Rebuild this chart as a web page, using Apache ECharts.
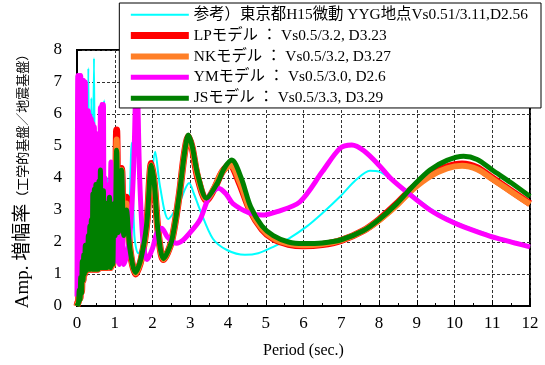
<!DOCTYPE html>
<html>
<head>
<meta charset="utf-8">
<script src="https://cdn.jsdelivr.net/npm/echarts@6/dist/echarts.min.js"></script>
<style>
  html, body { margin: 0; padding: 0; background: #fff; }
  #chart { width: 545px; height: 365px; }
</style>
</head>
<body>
<div id="chart"></div>
<script>
// [period (sec), amplification]
const refData = [[0,1.0],[0.03,2.0],[0.05,1.4],[0.08,3.5],[0.1,1.6],[0.13,4.5],[0.15,1.8],[0.18,5.0],[0.2,2.0],[0.23,5.5],[0.26,2.2],[0.3,7.43],[0.33,2.5],[0.38,6.5],[0.41,2.5],[0.45,7.74],[0.48,2.4],[0.52,5.0],[0.55,2.2],[0.6,4.5],[0.64,2.0],[0.72,6.43],[0.76,2.0],[0.8,4.0],[0.84,1.8],[0.9,3.5],[0.95,1.6],[1.0,3.0],[1.05,1.5],[1.1,2.5],[1.16,1.35],[1.22,1.44],[1.3,1.5],[1.36,1.8],[1.45,5.1],[1.52,2.2],[1.62,1.65],[1.8,2.1],[1.95,3.6],[2.07,4.82],[2.2,3.73],[2.42,2.72],[2.7,3.2],[2.97,3.84],[3.1,3.5],[3.26,3.0],[3.6,2.1],[3.97,1.75],[4.45,1.6],[4.8,1.65],[5.2,1.85],[5.6,2.1],[6.08,2.48],[6.5,2.9],[6.97,3.42],[7.4,3.95],[7.76,4.23],[8.0,4.2],[8.29,4.0],[8.8,3.55],[9.35,3.05],[9.8,2.75],[10.23,2.52],[10.7,2.32],[11.12,2.15],[11.6,2.0],[12,1.88]];

const lpData = [[0,0],[0.02,0.1],[0.04,0.15],[0.06,0.6],[0.08,0.25],[0.1,1.0],[0.12,0.45],[0.14,1.5],[0.16,0.8],[0.18,1.7],[0.2,1.0],[0.22,2.0],[0.24,1.1],[0.26,1.85],[0.28,1.15],[0.3,2.3],[0.32,1.15],[0.34,2.6],[0.36,1.15],[0.38,2.8],[0.4,1.15],[0.42,3.6],[0.44,1.15],[0.46,3.7],[0.48,1.15],[0.5,3.9],[0.52,1.15],[0.54,3.2],[0.56,1.15],[0.58,5.2],[0.6,1.2],[0.62,4.35],[0.64,1.2],[0.66,3.4],[0.68,1.2],[0.7,3.7],[0.72,1.2],[0.74,2.9],[0.76,1.2],[0.78,3.3],[0.8,1.2],[0.83,2.7],[0.86,3.5],[0.89,1.2],[0.92,2.9],[0.95,1.3],[0.98,3.4],[1.01,2.3],[1.05,5.5],[1.1,2.4],[1.18,4.3],[1.24,2.3],[1.31,3.4],[1.4,1.8],[1.55,1.0],[1.7,1.45],[1.85,2.6],[1.97,4.45],[2.05,3.8],[2.15,2.3],[2.29,1.45],[2.5,2.0],[2.7,3.4],[2.85,4.8],[2.95,5.3],[3.05,4.95],[3.2,4.0],[3.43,3.3],[3.65,3.7],[3.85,4.2],[4.05,4.42],[4.3,3.85],[4.58,3.0],[4.9,2.4],[5.2,2.1],[5.6,1.93],[6.0,1.88],[6.5,1.92],[7.0,2.05],[7.58,2.35],[8.0,2.7],[8.47,3.2],[8.9,3.7],[9.35,4.1],[9.8,4.35],[10.2,4.44],[10.6,4.32],[11.0,4.0],[11.5,3.6],[12,3.2]];

const nkData = [[0,0],[0.02,0.08],[0.04,0.12],[0.06,0.55],[0.08,0.22],[0.1,0.95],[0.12,0.42],[0.14,1.45],[0.16,0.8],[0.18,1.65],[0.2,1.0],[0.22,1.95],[0.24,1.1],[0.26,1.8],[0.28,1.15],[0.3,2.25],[0.32,1.15],[0.34,2.55],[0.36,1.15],[0.38,2.75],[0.4,1.15],[0.42,3.55],[0.44,1.15],[0.46,3.65],[0.48,1.15],[0.5,3.85],[0.52,1.15],[0.54,3.1],[0.56,1.15],[0.58,4.6],[0.6,1.2],[0.62,4.3],[0.64,1.2],[0.66,3.35],[0.68,1.2],[0.7,3.65],[0.72,1.2],[0.74,2.85],[0.76,1.2],[0.78,3.25],[0.8,1.2],[0.83,2.65],[0.86,3.45],[0.89,1.2],[0.92,2.85],[0.95,1.3],[0.98,3.3],[1.01,2.25],[1.05,5.2],[1.1,2.35],[1.18,4.25],[1.24,2.25],[1.31,3.2],[1.4,1.8],[1.55,1.02],[1.7,1.45],[1.85,2.6],[1.97,4.4],[2.05,3.8],[2.15,2.3],[2.29,1.46],[2.5,2.0],[2.7,3.4],[2.85,4.78],[2.95,5.28],[3.05,4.95],[3.2,4.05],[3.43,3.32],[3.65,3.72],[3.85,4.2],[4.07,4.38],[4.32,3.85],[4.58,3.02],[4.9,2.42],[5.2,2.12],[5.6,1.95],[6.0,1.9],[6.5,1.94],[7.0,2.06],[7.58,2.35],[8.0,2.68],[8.47,3.15],[8.9,3.65],[9.35,4.05],[9.8,4.3],[10.2,4.38],[10.6,4.27],[11.0,3.97],[11.5,3.57],[12,3.18]];

const ymData = [[0,0.3],[0.02,7.2],[0.04,0.5],[0.06,7.2],[0.08,0.8],[0.1,7.2],[0.12,1.0],[0.14,7.05],[0.16,1.1],[0.18,7.05],[0.2,1.2],[0.22,7.0],[0.24,1.2],[0.26,6.1],[0.28,1.2],[0.3,6.1],[0.32,1.2],[0.34,5.95],[0.36,1.2],[0.38,5.85],[0.4,1.25],[0.42,5.7],[0.44,1.25],[0.46,5.6],[0.48,1.25],[0.5,5.4],[0.52,1.3],[0.54,5.2],[0.56,1.3],[0.58,5.0],[0.6,1.3],[0.62,6.2],[0.64,1.3],[0.66,6.3],[0.68,1.3],[0.7,6.3],[0.72,1.3],[0.74,4.0],[0.76,1.3],[0.78,3.8],[0.8,1.3],[0.83,3.4],[0.86,1.3],[0.9,4.5],[0.94,1.35],[0.98,3.0],[1.02,1.4],[1.07,3.4],[1.12,1.3],[1.18,4.2],[1.24,1.3],[1.3,1.5],[1.4,2.2],[1.5,4.3],[1.58,7.58],[1.66,4.0],[1.75,2.0],[1.86,1.45],[2.0,1.8],[2.12,2.3],[2.24,2.43],[2.4,2.15],[2.64,1.96],[2.8,2.05],[3.0,2.3],[3.26,2.7],[3.52,3.47],[3.75,3.68],[3.95,3.5],[4.13,3.2],[4.58,2.9],[4.9,2.84],[5.3,2.95],[5.9,3.25],[6.5,4.2],[6.97,4.93],[7.28,5.03],[7.6,4.85],[8.0,4.4],[8.3,4.0],[8.8,3.5],[9.35,3.0],[9.8,2.7],[10.23,2.48],[10.7,2.28],[11.12,2.12],[11.6,1.97],[12,1.85]];

const jsData = [[0,0],[0.02,0.05],[0.04,0.1],[0.06,0.5],[0.08,0.2],[0.1,0.9],[0.12,0.4],[0.14,1.4],[0.16,0.8],[0.18,1.6],[0.2,1.0],[0.22,1.9],[0.24,1.1],[0.26,1.75],[0.28,1.15],[0.3,2.2],[0.32,1.15],[0.34,2.5],[0.36,1.15],[0.38,2.7],[0.4,1.15],[0.42,3.5],[0.44,1.15],[0.46,3.65],[0.48,1.15],[0.5,3.8],[0.52,1.15],[0.54,3.0],[0.56,1.15],[0.58,3.9],[0.6,1.2],[0.62,4.25],[0.64,1.2],[0.66,3.3],[0.68,1.2],[0.7,3.6],[0.72,1.2],[0.74,2.8],[0.76,1.2],[0.78,3.2],[0.8,1.2],[0.83,2.6],[0.86,3.4],[0.89,1.2],[0.92,2.8],[0.95,1.3],[0.98,3.2],[1.01,2.2],[1.05,4.87],[1.1,2.3],[1.18,4.25],[1.24,2.2],[1.31,3.0],[1.4,1.8],[1.55,1.05],[1.7,1.5],[1.85,2.6],[1.97,4.4],[2.05,3.8],[2.15,2.3],[2.29,1.48],[2.5,2.0],[2.7,3.4],[2.85,4.8],[2.95,5.34],[3.05,5.0],[3.2,4.1],[3.43,3.37],[3.7,3.8],[3.9,4.3],[4.1,4.56],[4.35,4.0],[4.6,3.1],[4.9,2.5],[5.2,2.2],[5.6,2.0],[6.0,1.95],[6.5,1.97],[7.0,2.07],[7.58,2.35],[8.0,2.7],[8.47,3.2],[8.9,3.75],[9.35,4.25],[9.8,4.55],[10.24,4.68],[10.6,4.58],[11.0,4.25],[11.5,3.85],[12,3.42]];

const seriesNames = [
  '参考）東京都H15微動 YYG地点Vs0.51/3.11,D2.56',
  'LPモデル ： Vs0.5/3.2, D3.23',
  'NKモデル ： Vs0.5/3.2, D3.27',
  'YMモデル ： Vs0.5/3.0, D2.6',
  'JSモデル ： Vs0.5/3.3, D3.29'
];
const seriesColors = ['#00ffff', '#ff0000', '#ff7f27', '#ff00ff', '#008000'];
const seriesWidths = [2, 7, 6, 5, 5];
const seriesData = [refData, lpData, nkData, ymData, jsData];

const font = "'Liberation Serif', 'Noto Sans CJK JP', serif";

const chart = echarts.init(document.getElementById('chart'));

chart.setOption({
  animation: false,
  grid: {
    left: 77, right: 15, top: 50, bottom: 59,
    show: true, borderColor: '#000', borderWidth: 2, backgroundColor: 'transparent'
  },
  legend: {
    orient: 'vertical',
    right: 4, top: 3,
    itemWidth: 58, itemHeight: 12, itemGap: 5.5,
    padding: [4, 13, 2, 8],
    backgroundColor: '#fff',
    borderColor: '#000', borderWidth: 1,
    selectedMode: false,
    itemStyle: { opacity: 0 },
    lineStyle: { width: 'inherit' },
    textStyle: { fontFamily: font, fontSize: 15.4, color: '#000' },
    data: seriesNames
  },
  xAxis: {
    type: 'value', min: 0, max: 12, interval: 1,
    name: 'Period (sec.)', nameLocation: 'middle', nameGap: 37,
    nameTextStyle: { fontFamily: font, fontSize: 16, color: '#000' },
    axisLine: { lineStyle: { color: '#000', width: 2 } },
    axisTick: { inside: true, length: 6, lineStyle: { color: '#000' } },
    minorTick: { show: true, splitNumber: 2, length: 3, lineStyle: { color: '#000' } },
    axisLabel: { fontFamily: font, fontSize: 17, color: '#000', margin: 9 },
    splitLine: { show: true, lineStyle: { color: '#333', type: [3, 2], width: 1 } }
  },
  yAxis: {
    type: 'value', min: 0, max: 8, interval: 1,
    name: '{a|Amp. 増幅率}{b|（工学的基盤／地震基盤）}',
    nameLocation: 'middle', nameGap: 44,
    nameTextStyle: {
      color: '#000',
      rich: {
        a: { fontFamily: font, fontSize: 19, color: '#000' },
        b: { fontFamily: font, fontSize: 13, color: '#000' }
      }
    },
    axisLine: { lineStyle: { color: '#000', width: 2 } },
    axisTick: { inside: true, length: 5, lineStyle: { color: '#000' } },
    axisLabel: { fontFamily: font, fontSize: 17, color: '#000', margin: 15 },
    splitLine: { show: true, lineStyle: { color: '#333', type: [3, 2], width: 1 } }
  },
  series: seriesNames.map((name, i) => ({
    name: name,
    type: 'line',
    data: seriesData[i],
    smooth: 0.3,
    symbol: 'none',
    color: seriesColors[i],
    lineStyle: { color: seriesColors[i], width: seriesWidths[i] }
  }))
});
</script>
</body>
</html>
